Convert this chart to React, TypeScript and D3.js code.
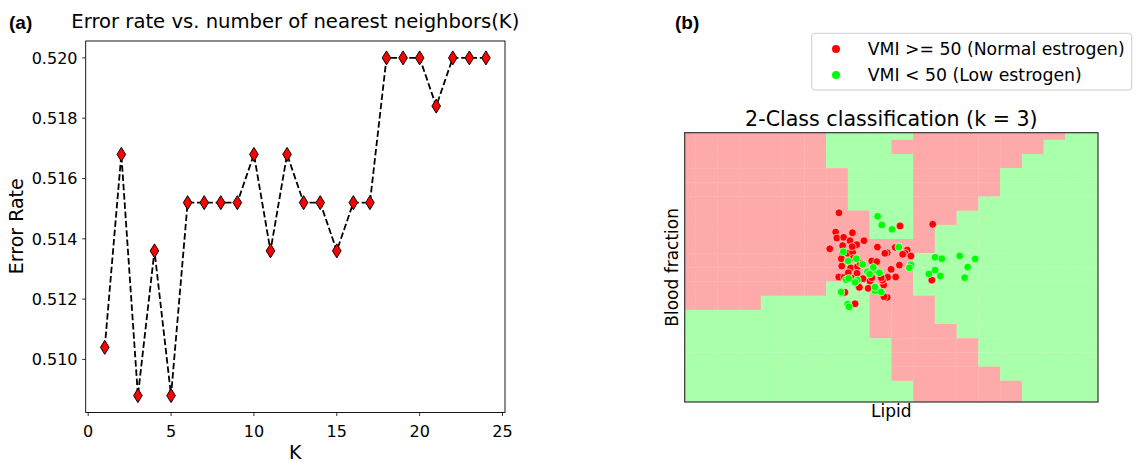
import React from "react";
import * as d3 from "d3";

// ---------- Panel (a) data ----------
const kValues = [1, 2, 3, 4, 5, 6, 7, 8, 9, 10, 11, 12, 13, 14, 15, 16, 17, 18, 19, 20, 21, 22, 23, 24];
const errorRates = [
  0.5104, 0.5168, 0.5088, 0.5136, 0.5088, 0.5152, 0.5152, 0.5152, 0.5152, 0.5168, 0.5136, 0.5168,
  0.5152, 0.5152, 0.5136, 0.5152, 0.5152, 0.52, 0.52, 0.52, 0.5184, 0.52, 0.52, 0.52,
];
const xTicksA = [0, 5, 10, 15, 20, 25];
const yTicksA = [0.51, 0.512, 0.514, 0.516, 0.518, 0.52];

// ---------- Panel (b) data ----------
// decision regions on a 20x20 mesh, rows listed top to bottom (R = normal, G = low)
const regionRows = [
  "RRRRRRRGGGGRRRRRRRGG",
  "RRRRRRRGGGRRRRRRRGGG",
  "RRRRRRRGGGGRRRRRGGGG",
  "RRRRRRRRGGGRRRRGGGGG",
  "RRRRRRRRGGGRRRRGGGGG",
  "RRRRRRRRGGGRRRGGGGGG",
  "RRRRRRRRRGGRRGGGGGGG",
  "RRRRRRRRRGGRGGGGGGGG",
  "RRRRRRRRRRRRGGGGGGGG",
  "RRRRRRRRRRRGGGGGGGGG",
  "RRRRRRRRRRRGGGGGGGGG",
  "RRRRRRRGGRRGGGGGGGGG",
  "RRRRGGGGGRRRGGGGGGGG",
  "GGGGGGGGGRRRGGGGGGGG",
  "GGGGGGGGGRRRRGGGGGGG",
  "GGGGGGGGGGRRRRGGGGGG",
  "GGGGGGGGGGRRRRGGGGGG",
  "GGGGGGGGGGRRRRRGGGGG",
  "GGGGGGGGGGGRRRRRGGGG",
  "GGGGGGGGGGGRRRRRGGGG",
];

// samples, [lipid, blood fraction] in mesh units
const normalPoints: [number, number][] = [
  [7.09, 13.35], [9.9, 12.42], [11.4, 12.54], [6.94, 11.99], [6.99, 11.57], [7.31, 11.62],
  [7.71, 11.94], [7.6, 11.38], [8.24, 11.38], [6.67, 10.81], [7.26, 11.03], [7.91, 11.1],
  [8.86, 10.93], [9.31, 10.53], [9.68, 10.91], [10.23, 10.72], [10.14, 10.49], [10.4, 10.3],
  [7.26, 10.49], [7.49, 10.49], [7.72, 10.56], [8.6, 9.95], [8.83, 9.9], [9.87, 9.66],
  [7.22, 9.59], [7.63, 9.47], [7.94, 9.54], [8.52, 9.24], [9.49, 9.36], [7.92, 9.08],
  [7.08, 8.82], [7.34, 8.8], [7.66, 8.75], [8.2, 8.7], [8.52, 8.53], [9.33, 8.8],
  [9.7, 8.82], [7.97, 8.25], [8.03, 8.09], [9.15, 8.25], [7.36, 7.74], [8.44, 8.02],
  [9.31, 7.38], [9.16, 7.43], [7.83, 6.93], [11.36, 8.6], [10.02, 10.42], [9.2, 10.49],
  [8.07, 9.8], [9.09, 8.6], [7.2, 10.11], [7.75, 10.14], [7.52, 9.12], [7.7, 10.96],
  [9.03, 8.77], [8.6, 8.77],
];
const lowPoints: [number, number][] = [
  [8.87, 13.1], [9.06, 12.49], [9.53, 12.18], [9.84, 10.93], [7.29, 10.6], [7.51, 9.95],
  [7.89, 10.11], [8.18, 9.71], [10.4, 9.68], [10.33, 9.47], [8.4, 9.19], [8.64, 9.31],
  [8.95, 9.12], [7.42, 8.63], [7.94, 8.6], [7.19, 7.76], [8.74, 7.85], [9.03, 7.76],
  [7.49, 6.91], [7.55, 6.72], [11.51, 10.21], [11.82, 10.11], [12.64, 10.3], [13.35, 10.09],
  [13.01, 9.52], [11.22, 9.03], [11.51, 9.31], [11.75, 8.89], [12.87, 8.77], [8.5, 9.03],
  [8.67, 9.5], [7.54, 8.72], [7.83, 8.44], [8.75, 8.11],
];
const legendLabels = ["VMI >= 50 (Normal estrogen)", "VMI < 50 (Low estrogen)"];

const FONT = "'DejaVu Sans', sans-serif";
const PANEL_FONT = "'Liberation Sans', Arial, sans-serif";
const RED = "#ff0000";
const GREEN = "#00ff00";
const LIGHT_RED = "#ffaaaa";
const LIGHT_GREEN = "#aaffaa";

export default function App() {
  // ----- panel (a) -----
  const ax = { left: 85.7, right: 505, top: 41, bottom: 412.5 };
  const xA = d3.scaleLinear().domain([-0.15, 25.15]).range([ax.left, ax.right]);
  const yA = d3.scaleLinear().domain([0.50824, 0.52056]).range([ax.bottom, ax.top]);
  const lineA = d3
    .line<number>()
    .x((_, i) => xA(kValues[i]))
    .y((d) => yA(d));
  const diamond = "M0,-7 L4.3,0 L0,7 L-4.3,0 Z";

  // ----- panel (b) -----
  const bx = { left: 684.7, right: 1098, top: 132.7, bottom: 402 };
  const nRows = regionRows.length;
  const nCols = regionRows[0].length;
  const xB = d3.scaleLinear().domain([0, nCols - 1]).range([bx.left, bx.right]);
  const yB = d3.scaleLinear().domain([0, nRows - 1]).range([bx.bottom, bx.top]);

  const cells: { x0: number; x1: number; y0: number; y1: number; c: string }[] = [];
  regionRows.forEach((row, r) => {
    const gy = nRows - 1 - r;
    row.split("").forEach((ch, c) => {
      cells.push({
        x0: xB(c - 0.5),
        x1: xB(c + 0.5),
        y0: yB(gy + 0.5),
        y1: yB(gy - 0.5),
        c: ch === "R" ? LIGHT_RED : LIGHT_GREEN,
      });
    });
  });

  return (
    <svg
      width={1141}
      height={462}
      style={{ position: "absolute", left: 0, top: 0, background: "#fff" }}
      fontFamily={FONT}
    >
      <rect x={0} y={0} width={1141} height={462} fill="#fff" />
      {/* ===== Panel (a) ===== */}
      <text x={9} y={29} fontSize={19} fontWeight="bold" fontFamily={PANEL_FONT} fill="#000">(a)</text>
      <text x={(ax.left + ax.right) / 2} y={28} fontSize={19.6} textAnchor="middle" fill="#000">
        Error rate vs. number of nearest neighbors(K)
      </text>
      {/* ticks */}
      {xTicksA.map((t) => (
        <g key={"xa" + t}>
          <line x1={xA(t)} x2={xA(t)} y1={ax.bottom} y2={ax.bottom + 3.5} stroke="#000" strokeWidth={0.8} />
          <text x={xA(t)} y={437} fontSize={16} textAnchor="middle" fill="#000">{t}</text>
        </g>
      ))}
      {yTicksA.map((t) => (
        <g key={"ya" + t}>
          <line x1={ax.left - 3.5} x2={ax.left} y1={yA(t)} y2={yA(t)} stroke="#000" strokeWidth={0.8} />
          <text x={77.5} y={yA(t)} dy="0.36em" fontSize={16} textAnchor="end" fill="#000">
            {d3.format(".3f")(t)}
          </text>
        </g>
      ))}
      <path d={lineA(errorRates) || ""} fill="none" stroke="#000" strokeWidth={1.8} strokeDasharray="6.5 2.8" />
      {errorRates.map((v, i) => (
        <path
          key={"m" + i}
          d={diamond}
          transform={`translate(${xA(kValues[i])},${yA(v)})`}
          fill={RED}
          stroke="#000"
          strokeWidth={1}
        />
      ))}
      <rect
        x={ax.left}
        y={ax.top}
        width={ax.right - ax.left}
        height={ax.bottom - ax.top}
        fill="none"
        stroke="#000"
        strokeWidth={0.9}
      />
      <text x={(ax.left + ax.right) / 2} y={458.5} fontSize={19} textAnchor="middle" fill="#000">K</text>
      <text
        transform={`translate(23,${(ax.top + ax.bottom) / 2 - 0.5}) rotate(-90)`}
        fontSize={19}
        textAnchor="middle"
        fill="#000"
      >
        Error Rate
      </text>

      {/* ===== Panel (b) ===== */}
      <text x={675} y={29} fontSize={19} fontWeight="bold" fontFamily={PANEL_FONT} fill="#000">(b)</text>
      <defs>
        <clipPath id="clipB">
          <rect x={bx.left} y={bx.top} width={bx.right - bx.left} height={bx.bottom - bx.top} />
        </clipPath>
      </defs>
      <g clipPath="url(#clipB)">
        {cells.map((c, i) => (
          <rect key={"c" + i} x={c.x0} y={c.y0} width={c.x1 - c.x0 + 0.3} height={c.y1 - c.y0 + 0.3} fill={c.c} />
        ))}
        {normalPoints.map((p, i) => (
          <circle key={"n" + i} cx={xB(p[0])} cy={yB(p[1])} r={3.9} fill={RED} stroke="#fff" strokeWidth={0.6} />
        ))}
        {lowPoints.map((p, i) => (
          <circle key={"l" + i} cx={xB(p[0])} cy={yB(p[1])} r={3.9} fill={GREEN} stroke="#fff" strokeWidth={0.6} />
        ))}
      </g>
      <rect
        x={bx.left}
        y={bx.top}
        width={bx.right - bx.left}
        height={bx.bottom - bx.top}
        fill="none"
        stroke="#333"
        strokeWidth={1.2}
      />
      <text x={(bx.left + bx.right) / 2} y={126} fontSize={20.6} textAnchor="middle" fill="#000">
        2-Class classification (k = 3)
      </text>
      <text x={(bx.left + bx.right) / 2} y={417} fontSize={17} textAnchor="middle" fill="#000">Lipid</text>
      <text
        transform={`translate(678,${(bx.top + bx.bottom) / 2}) rotate(-90)`}
        fontSize={17}
        textAnchor="middle"
        fill="#000"
      >
        Blood fraction
      </text>

      {/* legend */}
      <rect x={811.7} y={33.3} width={320} height={56.7} rx={3} fill="#fff" stroke="#cccccc" strokeWidth={1} />
      {legendLabels.map((lab, i) => (
        <g key={"lg" + i}>
          <circle cx={836} cy={49 + i * 26} r={4} fill={i === 0 ? RED : GREEN} />
          <text x={867.7} y={49 + i * 26} dy="0.36em" fontSize={17.3} fill="#000">{lab}</text>
        </g>
      ))}
    </svg>
  );
}
